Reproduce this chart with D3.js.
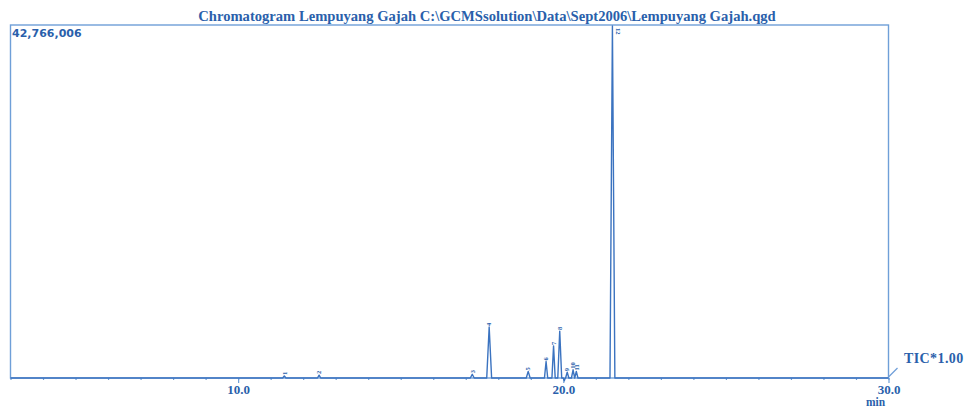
<!DOCTYPE html>
<html>
<head>
<meta charset="utf-8">
<script src="https://cdn.jsdelivr.net/npm/d3@7"></script>
<style>
  html, body { margin: 0; padding: 0; background: #ffffff; }
  svg { display: block; }
</style>
</head>
<body>
<svg id="chart" width="966" height="407"></svg>
<script>
// GC-MS total ion chromatogram, Lempuyang Gajah extract
const titleText = "Chromatogram Lempuyang Gajah C:\\GCMSsolution\\Data\\Sept2006\\Lempuyang Gajah.qgd";
const fullScale = 42766006;          // intensity at top of frame
const timeRange = [3.0, 30.0];       // retention time window, min
const majorTicks = [10.0, 20.0, 30.0];
const minorTicks = d3.range(3, 31, 1);
const signalLabel = "TIC*1.00";
const axisUnit = "min";

// integrated peaks: number, apex retention time (min), apex intensity, half-width (min)
const peakNo        = [1, 2, 3, 4, 5, 6, 7, 8, 9, 10, 11, 12];
const peakTime      = [11.42, 12.49, 17.20, 17.72, 18.92, 19.47, 19.70, 19.89, 20.12, 20.30, 20.40, 21.51];
const peakHeight    = [250000, 350000, 450000, 6200000, 800000, 2000000, 3900000, 5700000, 700000, 1000000, 800000, 42766006];
const peakHalfWidth = [0.05, 0.05, 0.06, 0.075, 0.06, 0.05, 0.05, 0.06, 0.05, 0.05, 0.05, 0.075];

// baseline points between peaks (small negative excursion near 20 min)
const baseTime  = [3.0, 20.00, 20.03, 20.06, 30.0];
const baseLevel = [0, 0, -350000, 0, 0];

const svg = d3.select("#chart");
const textColor = "#2a5fab";
const frameColor = "#6f9fd8";
const traceColor = "#3b73c0";
const serif = "'Liberation Serif', 'Times New Roman', serif";

const x = d3.scaleLinear().domain(timeRange).range([10.5, 888.5]);
const y = d3.scaleLinear().domain([0, fullScale]).range([378, 26]);

// trace vertices assembled from baseline and peaks
const pts = baseTime.map((t, i) => [t, baseLevel[i]]);
peakTime.forEach((t, i) => {
  pts.push([t - peakHalfWidth[i], 0]);
  pts.push([t, peakHeight[i]]);
  pts.push([t + peakHalfWidth[i], 0]);
});
pts.sort((a, b) => a[0] - b[0]);

// frame
svg.append("rect")
  .attr("x", x(timeRange[0])).attr("y", y(fullScale) - 1)
  .attr("width", x(timeRange[1]) - x(timeRange[0]))
  .attr("height", y(0) - y(fullScale) + 1)
  .attr("fill", "none").attr("stroke", frameColor).attr("stroke-width", 1.4);

// x axis with 1-min minor ticks and labelled major ticks
const axisG = svg.append("g").attr("transform", `translate(0,${y(0)})`);
axisG.call(d3.axisBottom(x).tickValues(minorTicks).tickSize(2).tickFormat(""))
  .call(g => g.select(".domain").remove())
  .call(g => g.selectAll("line").attr("stroke", frameColor).attr("stroke-width", 1.2));
const majorG = svg.append("g").attr("transform", `translate(0,${y(0)})`);
majorG.call(d3.axisBottom(x).tickValues(majorTicks).tickSize(5).tickPadding(2).tickFormat(d3.format(".1f")))
  .call(g => g.select(".domain").remove())
  .call(g => g.selectAll("line").attr("stroke", frameColor).attr("stroke-width", 1.2))
  .call(g => g.selectAll("text")
    .attr("fill", textColor)
    .attr("font-family", serif)
    .attr("font-weight", "bold")
    .attr("font-size", 13));

svg.append("text")
  .attr("x", x(30) - 13).attr("y", 406)
  .attr("text-anchor", "middle")
  .attr("fill", textColor)
  .attr("font-family", serif)
  .attr("font-weight", "bold").attr("font-size", 11.5)
  .text(axisUnit);

// chromatogram trace
const line = d3.line().x(d => x(d[0])).y(d => y(d[1]));
svg.append("path")
  .datum(pts)
  .attr("d", line)
  .attr("fill", "none")
  .attr("stroke", traceColor)
  .attr("stroke-width", 1.4)
  .attr("stroke-linejoin", "round");

// peak numbers, printed sideways at each apex
peakNo.forEach((n, i) => {
  const px = x(peakTime[i]);
  const py = y(peakHeight[i]);
  const atTop = py < y(fullScale) + 10;
  const tx = atTop ? px + 6 : px;
  const ty = atTop ? py + 2 : py - 1;
  svg.append("text")
    .attr("transform", `translate(${tx},${ty}) rotate(${atTop ? 90 : -90})`)
    .attr("dy", "0.35em")
    .attr("text-anchor", "start")
    .attr("fill", textColor)
    .attr("font-family", serif)
    .attr("font-weight", "bold")
    .attr("font-size", 6.5)
    .text(n);
});

// full-scale intensity
svg.append("text")
  .attr("x", 12).attr("y", 37)
  .attr("fill", textColor)
  .attr("font-family", "'DejaVu Sans', sans-serif")
  .attr("font-weight", "bold").attr("font-size", 11)
  .text(d3.format(",")(fullScale));

// title
svg.append("text")
  .attr("x", 487).attr("y", 21)
  .attr("text-anchor", "middle")
  .attr("fill", textColor)
  .attr("font-family", serif)
  .attr("font-weight", "bold").attr("font-size", 14.6)
  .text(titleText);

// signal label with leader from frame corner
svg.append("line")
  .attr("x1", x(30)).attr("y1", y(0) - 1)
  .attr("x2", x(30) + 9).attr("y2", y(0) - 10)
  .attr("stroke", frameColor).attr("stroke-width", 1.2);
svg.append("text")
  .attr("x", 904).attr("y", 363)
  .attr("fill", textColor)
  .attr("font-family", serif)
  .attr("font-weight", "bold").attr("font-size", 14)
  .attr("letter-spacing", 0.4)
  .text(signalLabel);
</script>
</body>
</html>
